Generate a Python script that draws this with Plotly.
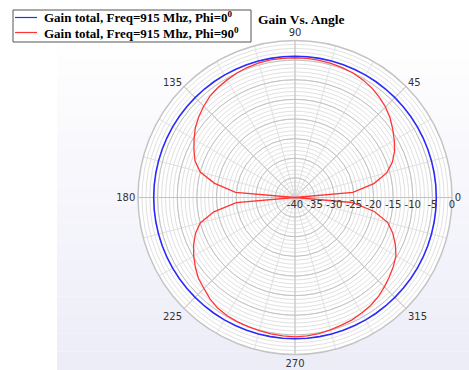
import plotly.graph_objects as go

# Angles in degrees (5 degree step) and gain in dB
theta_deg = list(range(0, 365, 5))

gain_phi0 = [
    -4.0, -4.0, -4.0, -4.0, -4.0, -4.0, -4.0, -4.0, -4.0, -4.0,
    -4.0, -4.0, -4.0, -4.0, -4.0, -4.0, -4.0, -4.0, -4.0, -4.0,
    -4.0, -4.0, -4.0, -4.0, -4.0, -4.0, -4.0, -4.0, -4.0, -4.0,
    -4.0, -4.0, -4.0, -4.0, -4.0, -4.0, -4.0, -4.0, -4.0, -4.0,
    -4.0, -4.0, -4.0, -4.0, -4.0, -4.0, -4.0, -4.0, -4.0, -4.0,
    -4.0, -4.0, -4.0, -4.0, -4.0, -4.0, -4.0, -4.0, -4.0, -4.0,
    -4.0, -4.0, -4.0, -4.0, -4.0, -4.0, -4.0, -4.0, -4.0, -4.0,
    -4.0, -4.0, -4.0,
]

gain_phi90 = [
    -40.0, -25.2, -19.6, -15.8, -13.6, -12.0, -10.8, -9.6, -8.4, -7.4,
    -6.6, -5.9, -5.4, -5.0, -4.8, -4.6, -4.5, -4.4, -4.4, -4.4,
    -4.4, -4.5, -4.7, -5.0, -5.4, -5.8, -6.3, -7.1, -8.0, -9.0,
    -10.3, -11.6, -12.9, -15.0, -19.2, -24.8, -40.0, -25.0, -19.0, -15.0,
    -13.0, -11.5, -10.2, -9.0, -7.9, -7.2, -6.3, -5.6, -5.3, -5.1,
    -5.0, -4.9, -4.7, -4.6, -4.5, -4.6, -4.8, -5.1, -5.4, -5.6,
    -6.0, -6.4, -7.0, -7.8, -8.6, -9.4, -10.3, -11.8, -13.5, -15.6,
    -19.5, -25.4, -40.0,
]

series_names = [
    "Gain total, Freq=915 Mhz, Phi=0<sup>0</sup>",
    "Gain total, Freq=915 Mhz, Phi=90<sup>0</sup>",
]
series_colors = ["#2b2bff", "#ff3535"]

radial_ticks = [-40, -35, -30, -25, -20, -15, -10, -5, 0]
angle_ticks = [0, 45, 90, 135, 180, 225, 270, 315]

W, H = 469, 370
cx, cy, rad = 295, 197.5, 157
dom_x = [(cx - rad) / W, (cx + rad) / W]
dom_y = [(H - cy - rad) / H, (H - cy + rad) / H]

fig = go.Figure()

# placeholder so the minor-grid polar subplot is rendered
fig.add_trace(go.Scatterpolar(r=[None], theta=[None], subplot="polar",
                              showlegend=False, hoverinfo="skip"))

for r_vals, name, color, width in zip([gain_phi0, gain_phi90], series_names,
                                      series_colors, [1.6, 1.3]):
    fig.add_trace(go.Scatterpolar(
        r=r_vals, theta=theta_deg, mode="lines", subplot="polar2",
        name=name, showlegend=False,
        line=dict(color=color, width=width),
    ))

# soft lavender backdrop fading in towards the bottom
n_bands = 18
y_top, y_bot = 40, H
for i in range(n_bands):
    t = (i + 0.5) / n_bands
    r = round(255 - t * 19)
    g = round(255 - t * 19)
    b = round(255 - t * 7)
    y0 = y_top + (y_bot - y_top) * i / n_bands
    y1 = y_top + (y_bot - y_top) * (i + 1) / n_bands
    fig.add_shape(type="rect", xref="paper", yref="paper",
                  x0=57 / W, x1=1, y0=1 - y1 / H, y1=1 - y0 / H,
                  fillcolor=f"rgb({r},{g},{b})", line_width=0, layer="below")


# legend box with line keys and labels
def px_x(v):
    return v / W


def px_y(v):
    return 1 - v / H


fig.add_shape(type="rect", xref="paper", yref="paper",
              x0=px_x(13), x1=px_x(251), y0=px_y(42), y1=px_y(10),
              fillcolor="white", line=dict(color="#555", width=1))
for k, (name, color) in enumerate(zip(series_names, series_colors)):
    yy = 17.5 + k * 15
    fig.add_shape(type="line", xref="paper", yref="paper",
                  x0=px_x(15), x1=px_x(37), y0=px_y(yy), y1=px_y(yy),
                  line=dict(color=color, width=1.2))
    fig.add_annotation(text=f"<b>{name}</b>", xref="paper", yref="paper",
                       x=px_x(42), y=px_y(yy), xanchor="left",
                       yanchor="middle", showarrow=False,
                       font=dict(family="Liberation Serif", size=13,
                                 color="black"))

minor_grid = "#e1e1e1"
major_grid = "#c2c2c2"

fig.update_layout(
    width=W, height=H,
    margin=dict(l=0, r=0, t=0, b=0),
    paper_bgcolor="white",
    showlegend=False,
    font=dict(family="DejaVu Sans", size=10, color="#333"),
    title=dict(text="Gain Vs. Angle", x=258 / W, xanchor="left",
               y=1 - 19 / H, yanchor="middle",
               font=dict(family="Liberation Serif", size=13.5, color="black",
                         weight="bold")),
    polar=dict(
        domain=dict(x=dom_x, y=dom_y),
        bgcolor="white",
        radialaxis=dict(range=[-40, 0], dtick=1, showticklabels=False,
                        ticks="", showline=False, gridcolor=minor_grid,
                        gridwidth=1),
        angularaxis=dict(rotation=0, direction="counterclockwise", dtick=15,
                         showticklabels=False, ticks="", showline=False,
                         gridcolor=minor_grid, gridwidth=1),
    ),
    polar2=dict(
        domain=dict(x=dom_x, y=dom_y),
        bgcolor="rgba(0,0,0,0)",
        radialaxis=dict(range=[-40, 0], tickvals=radial_ticks,
                        ticktext=[str(v) for v in radial_ticks],
                        angle=0, side="clockwise", ticks="", showline=False,
                        gridcolor=major_grid, gridwidth=1,
                        tickfont=dict(size=10, color="#333")),
        angularaxis=dict(rotation=0, direction="counterclockwise",
                         tickvals=angle_ticks,
                         ticktext=[str(v) for v in angle_ticks],
                         ticks="", showline=True, linecolor="#c4c4c4",
                         linewidth=1.5, gridcolor=major_grid, gridwidth=1,
                         tickfont=dict(size=10, color="#333")),
    ),
)

fig.write_html("out.html")
